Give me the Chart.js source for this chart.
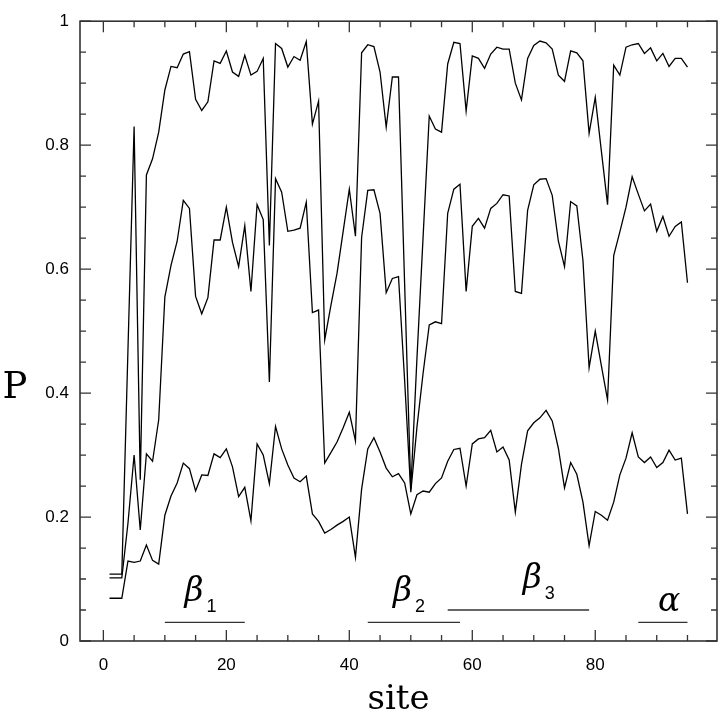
<!DOCTYPE html>
<html><head><meta charset="utf-8">
<script src="https://cdn.jsdelivr.net/npm/chart.js@4.4.0/dist/chart.umd.min.js"></script>
<style>html,body{margin:0;padding:0;background:#fff;}canvas{display:block;}</style>
</head><body>
<canvas id="c" width="720" height="713" style="width:720px;height:713px"></canvas>
<script>
// ---- data ----
const sites = [1,2,3,4,5,6,7,8,9,10,11,12,13,14,15,16,17,18,19,20,21,22,23,24,25,26,27,28,29,30,
  31,32,33,34,35,36,37,38,39,40,41,42,43,44,45,46,47,48,49,50,51,52,53,54,55,56,57,58,59,60,
  61,62,63,64,65,66,67,68,69,70,71,72,73,74,75,76,77,78,79,80,81,82,83,84,85,86,87,88,89,90,
  91,92,93,94,95];
const pUpper = [0.108,0.108,0.108,0.47,0.83,0.26,0.752,0.778,0.821,0.889,
  0.927,0.925,0.947,0.951,0.874,0.856,0.870,0.936,0.932,0.952,
  0.918,0.911,0.945,0.913,0.919,0.940,0.638,0.964,0.956,0.926,
  0.943,0.937,0.967,0.834,0.871,0.486,0.541,0.593,0.661,0.729,
  0.653,0.949,0.962,0.959,0.918,0.829,0.910,0.910,0.575,0.245,
  0.456,0.652,0.847,0.826,0.821,0.931,0.966,0.964,0.855,0.944,
  0.940,0.924,0.947,0.958,0.955,0.955,0.900,0.873,0.940,0.961,
  0.968,0.965,0.955,0.913,0.903,0.952,0.949,0.936,0.819,0.877,
  0.790,0.704,0.929,0.913,0.958,0.962,0.964,0.948,0.957,0.936,
  0.948,0.927,0.940,0.940,0.926];
const pMiddle = [0.102,0.102,0.102,0.19,0.30,0.179,0.302,0.29,0.357,0.555,
  0.606,0.645,0.711,0.698,0.556,0.528,0.554,0.647,0.647,0.700,
  0.643,0.604,0.670,0.564,0.704,0.680,0.418,0.746,0.724,0.661,
  0.663,0.666,0.708,0.530,0.534,0.287,0.304,0.321,0.344,0.369,
  0.323,0.651,0.727,0.728,0.690,0.562,0.585,0.588,0.42,0.24,
  0.345,0.432,0.510,0.515,0.512,0.69,0.729,0.737,0.564,0.669,
  0.682,0.666,0.698,0.706,0.720,0.718,0.564,0.561,0.695,0.736,
  0.745,0.746,0.719,0.645,0.604,0.709,0.702,0.614,0.441,0.500,
  0.444,0.389,0.622,0.660,0.700,0.749,0.721,0.694,0.705,0.661,
  0.685,0.653,0.669,0.676,0.578];
const pLower = [0.069,0.069,0.069,0.129,0.127,0.129,0.155,0.130,0.124,0.203,
  0.234,0.255,0.287,0.278,0.242,0.268,0.267,0.302,0.296,0.310,
  0.281,0.233,0.248,0.194,0.318,0.300,0.254,0.346,0.310,0.284,
  0.263,0.257,0.266,0.205,0.193,0.174,0.180,0.187,0.193,0.200,
  0.135,0.245,0.310,0.328,0.305,0.279,0.265,0.270,0.255,0.205,
  0.236,0.242,0.240,0.254,0.263,0.290,0.309,0.311,0.250,0.318,
  0.326,0.328,0.340,0.305,0.313,0.292,0.208,0.285,0.339,0.352,
  0.360,0.372,0.355,0.311,0.247,0.288,0.269,0.224,0.154,0.209,
  0.203,0.195,0.224,0.268,0.295,0.336,0.297,0.288,0.297,0.280,
  0.288,0.308,0.292,0.295,0.205];

const xTickValues = [0,20,40,60,80];
const xTickLabels = ['0','20','40','60','80'];
const xMinorTickValues = [5,10,15,25,30,35,45,50,55,65,70,75,85,90,95];
const yTickValues = [0,0.2,0.4,0.6,0.8,1];
const yTickLabels = ['0','0.2','0.4','0.6','0.8','1'];
const yMinorTickValues = [0.05,0.1,0.15,0.25,0.3,0.35,0.45,0.5,0.55,0.65,0.7,0.75,0.85,0.9,0.95];

// secondary-structure segments
const segSymbol = ['β','β','β','α'];
const segSub    = ['1','2','3',''];
const segFrom   = [10,43,56,87];
const segTo     = [23,58,79,95];
const segLevel  = [0.03,0.03,0.05,0.03];
const segLabelX = [13.2,47.1,68.2,90.2];
const segLabelY = [0.064,0.064,0.086,0.048];

const xTitle = 'site';
const yTitle = 'P';

// ---- build ----
const toPts = arr => arr.map((v,i)=>({x:sites[i], y:v}));
const datasets = [pUpper,pMiddle,pLower].map(arr => ({
  data: toPts(arr), borderColor:'#000', borderWidth:1.3, pointRadius:0, fill:false, tension:0
}));
segFrom.forEach((f,i)=>{
  datasets.push({data:[{x:f,y:segLevel[i]},{x:segTo[i],y:segLevel[i]}],
    borderColor:'#333', borderWidth:1.3, pointRadius:0, fill:false});
});

const decor = {
  id:'decor',
  afterDatasetsDraw(chart){
    const {ctx, chartArea:a, scales:{x,y}} = chart;
    ctx.save();
    ctx.strokeStyle = '#333';
    ctx.lineWidth = 1.6;
    ctx.strokeRect(a.left, a.top, a.right-a.left, a.bottom-a.top);
    ctx.lineWidth = 1.3;
    ctx.beginPath();
    const tx = (vals,len)=>vals.forEach(v=>{const p=x.getPixelForValue(v);
      ctx.moveTo(p,a.bottom);ctx.lineTo(p,a.bottom-len);ctx.moveTo(p,a.top);ctx.lineTo(p,a.top+len);});
    const ty = (vals,len)=>vals.forEach(v=>{const p=y.getPixelForValue(v);
      ctx.moveTo(a.left,p);ctx.lineTo(a.left+len,p);ctx.moveTo(a.right,p);ctx.lineTo(a.right-len,p);});
    tx(xTickValues,11); tx(xMinorTickValues,6);
    ty(yTickValues,11); ty(yMinorTickValues,6);
    ctx.stroke();

    // segment labels
    ctx.fillStyle = '#000';
    ctx.textBaseline = 'alphabetic';
    ctx.textAlign = 'left';
    segSymbol.forEach((s,i)=>{
      const px = x.getPixelForValue(segLabelX[i]);
      const py = y.getPixelForValue(segLabelY[i]);
      ctx.font = 'italic 33px "DejaVu Serif", serif';
      ctx.fillText(s, px, py);
      if (segSub[i]) {
        const w = ctx.measureText(s).width;
        ctx.font = '18px "Liberation Sans", Arial, sans-serif';
        ctx.fillText(segSub[i], px + w + 3, py + 11);
      }
    });

    // axis titles
    ctx.font = '34px "DejaVu Serif", serif';
    ctx.textAlign = 'center';
    ctx.fillText(xTitle, (a.left+a.right)/2, 709);
    ctx.font = '37px "DejaVu Serif", serif';
    ctx.fillText(yTitle, 15, 398);
    ctx.restore();
  }
};

const tickFont = {family:'"Liberation Sans", Arial, sans-serif', size:17};
new Chart(document.getElementById('c'), {
  type:'line',
  data:{datasets},
  options:{
    responsive:false, animation:false, devicePixelRatio:1,
    layout:{padding:{left:0,right:3,top:4,bottom:0}},
    plugins:{legend:{display:false}, tooltip:{enabled:false}},
    scales:{
      x:{type:'linear', min:-3.8, max:99.8,
        grid:{display:false, drawTicks:false}, border:{display:false},
        afterBuildTicks:s=>{ s.ticks = xTickValues.map(v=>({value:v})); },
        afterFit:s=>{ s.height = 72; },
        ticks:{padding:14, font:tickFont, color:'#000', maxRotation:0, autoSkip:false,
          callback:(v,i)=>xTickLabels[i]}},
      y:{type:'linear', min:0, max:1,
        grid:{display:false, drawTicks:false}, border:{display:false},
        afterBuildTicks:s=>{ s.ticks = yTickValues.map(v=>({value:v})); },
        afterFit:s=>{ s.width = 80; },
        ticks:{padding:11, font:tickFont, color:'#000', autoSkip:false,
          callback:(v,i)=>yTickLabels[i]}}
    }
  },
  plugins:[decor]
});
</script>
</body></html>
